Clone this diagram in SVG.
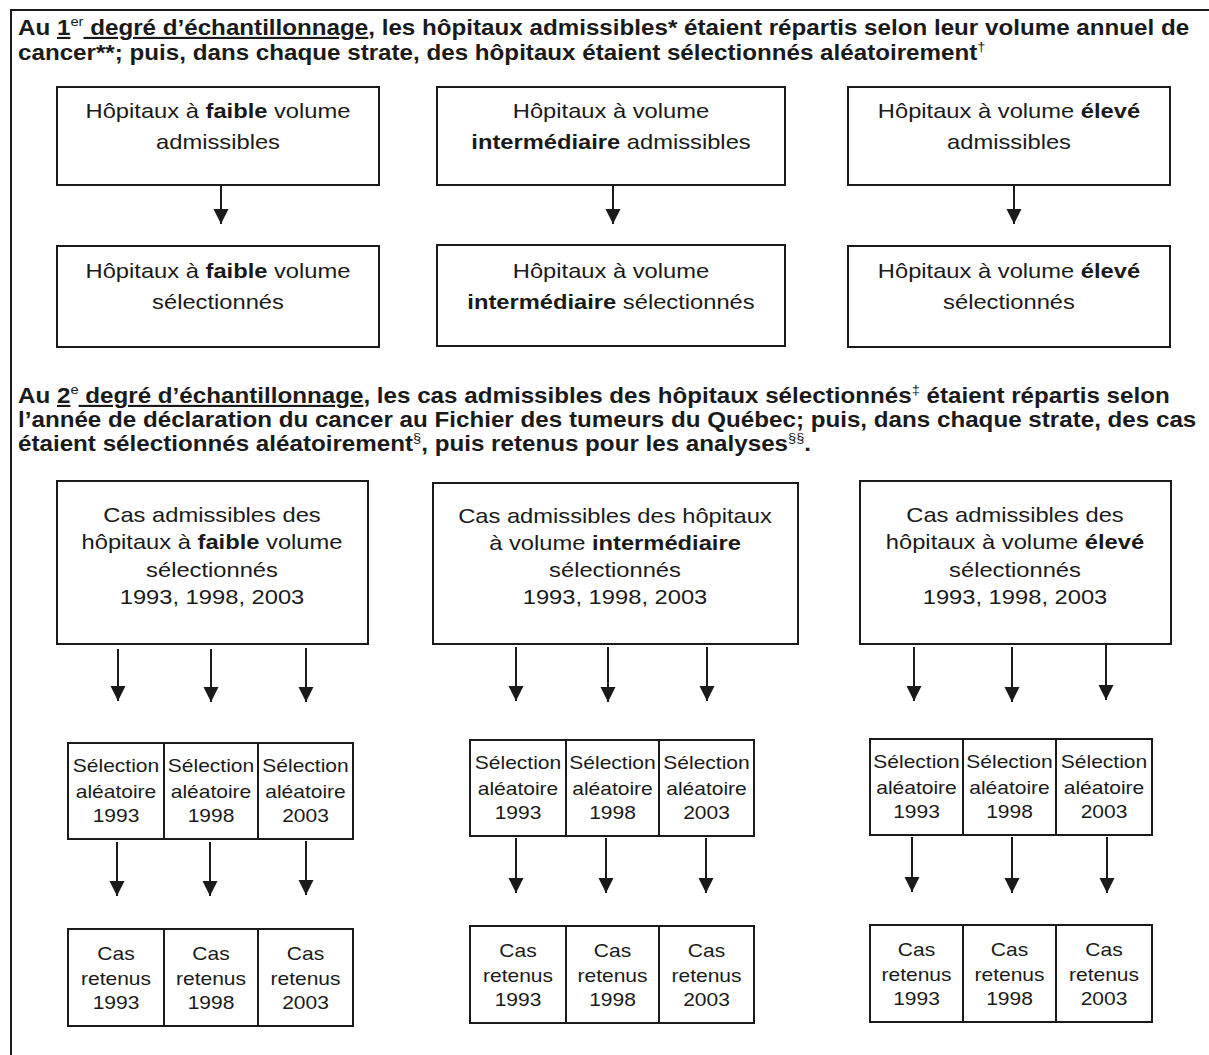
<svg xmlns="http://www.w3.org/2000/svg" width="1209" height="1055" viewBox="0 0 1209 1055">
<defs>
<style>
text{font-family:"Liberation Sans",Arial,sans-serif;fill:#1a1a1a}
.h{font-size:21.4px;font-weight:bold}
.b{font-size:21px;text-anchor:middle}
.s{font-size:18.6px;text-anchor:middle}
.sup{font-size:13px;font-weight:normal}
.u{text-decoration:underline}
.bx{fill:#fff;stroke:#1a1a1a;stroke-width:2}
.ln{stroke:#1a1a1a;stroke-width:2;fill:none}
</style>
<marker id="ah" viewBox="0 0 16 17" refX="16" refY="8" markerWidth="17" markerHeight="16" markerUnits="userSpaceOnUse" orient="auto">
<path d="M0,0 L16,8 L0,16 Z" fill="#1a1a1a"/>
</marker>
</defs>
<rect width="1209" height="1055" fill="#fff"/>
<g id="frame">
<line class="ln" x1="10" y1="10" x2="1209" y2="10"/>
<line class="ln" x1="11" y1="10" x2="11" y2="1055"/>
</g>
<g id="header1">
<text class="h" transform="translate(18 35) scale(1.13 1)">Au <tspan class="u">1</tspan><tspan class="sup" dy="-9">er</tspan><tspan class="u" dy="9"> degré d’échantillonnage</tspan>, les hôpitaux admissibles* étaient répartis selon leur volume annuel de</text>
<text class="h" transform="translate(18 60) scale(1.13 1)">cancer**; puis, dans chaque strate, des hôpitaux étaient sélectionnés aléatoirement<tspan class="sup" dy="-9">†</tspan></text>
</g>
<g id="n_faible_adm"><rect class="bx" x="57" y="87" width="322" height="98"/>
<text class="b" transform="translate(218 118) scale(1.13 1)">Hôpitaux à <tspan font-weight="bold">faible</tspan> volume</text>
<text class="b" transform="translate(218 149) scale(1.13 1)">admissibles</text></g>
<g id="n_inter_adm"><rect class="bx" x="437" y="87" width="348" height="98"/>
<text class="b" transform="translate(611 118) scale(1.13 1)">Hôpitaux à volume</text>
<text class="b" transform="translate(611 149) scale(1.13 1)"><tspan font-weight="bold">intermédiaire</tspan> admissibles</text></g>
<g id="n_eleve_adm"><rect class="bx" x="848" y="87" width="322" height="98"/>
<text class="b" transform="translate(1009 118) scale(1.13 1)">Hôpitaux à volume <tspan font-weight="bold">élevé</tspan></text>
<text class="b" transform="translate(1009 149) scale(1.13 1)">admissibles</text></g>
<g id="n_faible_sel"><rect class="bx" x="57" y="246" width="322" height="101"/>
<text class="b" transform="translate(218 278) scale(1.13 1)">Hôpitaux à <tspan font-weight="bold">faible</tspan> volume</text>
<text class="b" transform="translate(218 309) scale(1.13 1)">sélectionnés</text></g>
<g id="n_inter_sel"><rect class="bx" x="437" y="245" width="348" height="101"/>
<text class="b" transform="translate(611 278) scale(1.13 1)">Hôpitaux à volume</text>
<text class="b" transform="translate(611 309) scale(1.13 1)"><tspan font-weight="bold">intermédiaire</tspan> sélectionnés</text></g>
<g id="n_eleve_sel"><rect class="bx" x="848" y="246" width="322" height="101"/>
<text class="b" transform="translate(1009 278) scale(1.13 1)">Hôpitaux à volume <tspan font-weight="bold">élevé</tspan></text>
<text class="b" transform="translate(1009 309) scale(1.13 1)">sélectionnés</text></g>
<g id="header2">
<text class="h" transform="translate(18 403) scale(1.13 1)">Au <tspan class="u">2</tspan><tspan class="sup" dy="-9">e</tspan><tspan class="u" dy="9"> degré d’échantillonnage</tspan>, les cas admissibles des hôpitaux sélectionnés<tspan class="sup" dy="-9">‡</tspan><tspan dy="9"> étaient répartis selon</tspan></text>
<text class="h" transform="translate(18 427) scale(1.13 1)">l’année de déclaration du cancer au Fichier des tumeurs du Québec; puis, dans chaque strate, des cas</text>
<text class="h" transform="translate(18 451) scale(1.13 1)">étaient sélectionnés aléatoirement<tspan class="sup" dy="-9">§</tspan><tspan dy="9">, puis retenus pour les analyses</tspan><tspan class="sup" dy="-9">§§</tspan><tspan dy="9">.</tspan></text>
</g>
<g id="n_cas_faible"><rect class="bx" x="57" y="481" width="311" height="163"/>
<text class="b" transform="translate(212 522) scale(1.13 1)">Cas admissibles des</text>
<text class="b" transform="translate(212 549) scale(1.13 1)">hôpitaux à <tspan font-weight="bold">faible</tspan> volume</text>
<text class="b" transform="translate(212 577) scale(1.13 1)">sélectionnés</text>
<text class="b" transform="translate(212 604) scale(1.13 1)">1993, 1998, 2003</text></g>
<g id="n_cas_inter"><rect class="bx" x="433" y="483" width="365" height="161"/>
<text class="b" transform="translate(615 523) scale(1.13 1)">Cas admissibles des hôpitaux</text>
<text class="b" transform="translate(615 550) scale(1.13 1)">à volume <tspan font-weight="bold">intermédiaire</tspan></text>
<text class="b" transform="translate(615 577) scale(1.13 1)">sélectionnés</text>
<text class="b" transform="translate(615 604) scale(1.13 1)">1993, 1998, 2003</text></g>
<g id="n_cas_eleve"><rect class="bx" x="860" y="481" width="311" height="163"/>
<text class="b" transform="translate(1015 522) scale(1.13 1)">Cas admissibles des</text>
<text class="b" transform="translate(1015 549) scale(1.13 1)">hôpitaux à volume <tspan font-weight="bold">élevé</tspan></text>
<text class="b" transform="translate(1015 577) scale(1.13 1)">sélectionnés</text>
<text class="b" transform="translate(1015 604) scale(1.13 1)">1993, 1998, 2003</text></g>
<g id="n_sel_faible">
<rect class="bx" x="68" y="743" width="96" height="96"/><rect class="bx" x="164" y="743" width="94" height="96"/><rect class="bx" x="258" y="743" width="95" height="96"/>
<text class="s" transform="translate(116 772) scale(1.13 1)">Sélection</text><text class="s" transform="translate(116 798) scale(1.13 1)">aléatoire</text><text class="s" transform="translate(116 822) scale(1.13 1)">1993</text>
<text class="s" transform="translate(211 772) scale(1.13 1)">Sélection</text><text class="s" transform="translate(211 798) scale(1.13 1)">aléatoire</text><text class="s" transform="translate(211 822) scale(1.13 1)">1998</text>
<text class="s" transform="translate(305.5 772) scale(1.13 1)">Sélection</text><text class="s" transform="translate(305.5 798) scale(1.13 1)">aléatoire</text><text class="s" transform="translate(305.5 822) scale(1.13 1)">2003</text>
</g>
<g id="n_sel_inter">
<rect class="bx" x="470" y="740" width="96" height="96"/><rect class="bx" x="566" y="740" width="93" height="96"/><rect class="bx" x="659" y="740" width="95" height="96"/>
<text class="s" transform="translate(518 769) scale(1.13 1)">Sélection</text><text class="s" transform="translate(518 795) scale(1.13 1)">aléatoire</text><text class="s" transform="translate(518 819) scale(1.13 1)">1993</text>
<text class="s" transform="translate(612.5 769) scale(1.13 1)">Sélection</text><text class="s" transform="translate(612.5 795) scale(1.13 1)">aléatoire</text><text class="s" transform="translate(612.5 819) scale(1.13 1)">1998</text>
<text class="s" transform="translate(706.5 769) scale(1.13 1)">Sélection</text><text class="s" transform="translate(706.5 795) scale(1.13 1)">aléatoire</text><text class="s" transform="translate(706.5 819) scale(1.13 1)">2003</text>
</g>
<g id="n_sel_eleve">
<rect class="bx" x="870" y="739" width="93" height="96"/><rect class="bx" x="963" y="739" width="93" height="96"/><rect class="bx" x="1056" y="739" width="96" height="96"/>
<text class="s" transform="translate(916.5 768) scale(1.13 1)">Sélection</text><text class="s" transform="translate(916.5 794) scale(1.13 1)">aléatoire</text><text class="s" transform="translate(916.5 818) scale(1.13 1)">1993</text>
<text class="s" transform="translate(1009.5 768) scale(1.13 1)">Sélection</text><text class="s" transform="translate(1009.5 794) scale(1.13 1)">aléatoire</text><text class="s" transform="translate(1009.5 818) scale(1.13 1)">1998</text>
<text class="s" transform="translate(1104 768) scale(1.13 1)">Sélection</text><text class="s" transform="translate(1104 794) scale(1.13 1)">aléatoire</text><text class="s" transform="translate(1104 818) scale(1.13 1)">2003</text>
</g>
<g id="n_ret_faible">
<rect class="bx" x="68" y="929" width="96" height="97"/><rect class="bx" x="164" y="929" width="94" height="97"/><rect class="bx" x="258" y="929" width="95" height="97"/>
<text class="s" transform="translate(116 960) scale(1.13 1)">Cas</text><text class="s" transform="translate(116 985) scale(1.13 1)">retenus</text><text class="s" transform="translate(116 1009) scale(1.13 1)">1993</text>
<text class="s" transform="translate(211 960) scale(1.13 1)">Cas</text><text class="s" transform="translate(211 985) scale(1.13 1)">retenus</text><text class="s" transform="translate(211 1009) scale(1.13 1)">1998</text>
<text class="s" transform="translate(305.5 960) scale(1.13 1)">Cas</text><text class="s" transform="translate(305.5 985) scale(1.13 1)">retenus</text><text class="s" transform="translate(305.5 1009) scale(1.13 1)">2003</text>
</g>
<g id="n_ret_inter">
<rect class="bx" x="470" y="926" width="96" height="97"/><rect class="bx" x="566" y="926" width="93" height="97"/><rect class="bx" x="659" y="926" width="95" height="97"/>
<text class="s" transform="translate(518 957) scale(1.13 1)">Cas</text><text class="s" transform="translate(518 982) scale(1.13 1)">retenus</text><text class="s" transform="translate(518 1006) scale(1.13 1)">1993</text>
<text class="s" transform="translate(612.5 957) scale(1.13 1)">Cas</text><text class="s" transform="translate(612.5 982) scale(1.13 1)">retenus</text><text class="s" transform="translate(612.5 1006) scale(1.13 1)">1998</text>
<text class="s" transform="translate(706.5 957) scale(1.13 1)">Cas</text><text class="s" transform="translate(706.5 982) scale(1.13 1)">retenus</text><text class="s" transform="translate(706.5 1006) scale(1.13 1)">2003</text>
</g>
<g id="n_ret_eleve">
<rect class="bx" x="870" y="925" width="93" height="97"/><rect class="bx" x="963" y="925" width="93" height="97"/><rect class="bx" x="1056" y="925" width="96" height="97"/>
<text class="s" transform="translate(916.5 956) scale(1.13 1)">Cas</text><text class="s" transform="translate(916.5 981) scale(1.13 1)">retenus</text><text class="s" transform="translate(916.5 1005) scale(1.13 1)">1993</text>
<text class="s" transform="translate(1009.5 956) scale(1.13 1)">Cas</text><text class="s" transform="translate(1009.5 981) scale(1.13 1)">retenus</text><text class="s" transform="translate(1009.5 1005) scale(1.13 1)">1998</text>
<text class="s" transform="translate(1104 956) scale(1.13 1)">Cas</text><text class="s" transform="translate(1104 981) scale(1.13 1)">retenus</text><text class="s" transform="translate(1104 1005) scale(1.13 1)">2003</text>
</g>
<g id="connectors" class="ln">
<line x1="221" y1="186" x2="221" y2="224" marker-end="url(#ah)"/>
<line x1="613" y1="186" x2="613" y2="224" marker-end="url(#ah)"/>
<line x1="1014" y1="186" x2="1014" y2="224" marker-end="url(#ah)"/>
<line x1="118" y1="649" x2="118" y2="701" marker-end="url(#ah)"/>
<line x1="211" y1="649" x2="211" y2="702" marker-end="url(#ah)"/>
<line x1="306" y1="648" x2="306" y2="702" marker-end="url(#ah)"/>
<line x1="516" y1="647" x2="516" y2="701" marker-end="url(#ah)"/>
<line x1="608" y1="647" x2="608" y2="702" marker-end="url(#ah)"/>
<line x1="707" y1="647" x2="707" y2="701" marker-end="url(#ah)"/>
<line x1="914" y1="647" x2="914" y2="701" marker-end="url(#ah)"/>
<line x1="1012" y1="647" x2="1012" y2="702" marker-end="url(#ah)"/>
<line x1="1106" y1="644" x2="1106" y2="700" marker-end="url(#ah)"/>
<line x1="117" y1="842" x2="117" y2="896" marker-end="url(#ah)"/>
<line x1="210" y1="842" x2="210" y2="896" marker-end="url(#ah)"/>
<line x1="306" y1="841" x2="306" y2="895" marker-end="url(#ah)"/>
<line x1="516" y1="838" x2="516" y2="893" marker-end="url(#ah)"/>
<line x1="606" y1="838" x2="606" y2="893" marker-end="url(#ah)"/>
<line x1="706" y1="838" x2="706" y2="893" marker-end="url(#ah)"/>
<line x1="912" y1="837" x2="912" y2="892" marker-end="url(#ah)"/>
<line x1="1012" y1="837" x2="1012" y2="893" marker-end="url(#ah)"/>
<line x1="1107" y1="837" x2="1107" y2="893" marker-end="url(#ah)"/>
</g>
</svg>
